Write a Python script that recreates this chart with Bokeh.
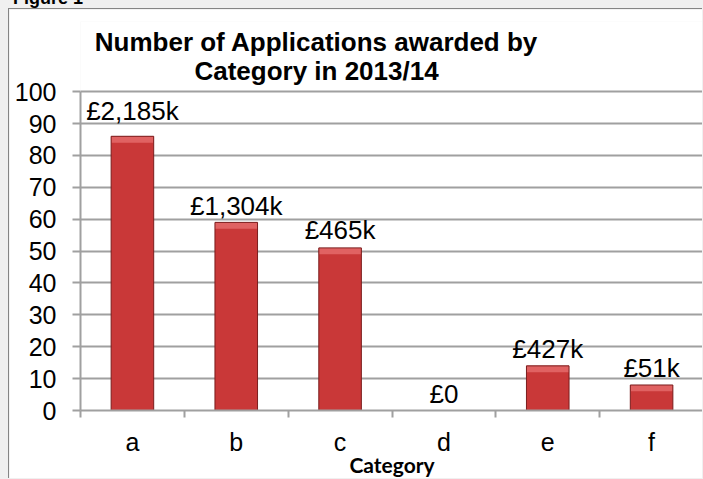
from bokeh.plotting import figure
from bokeh.models import Range1d, FixedTicker, Label, Div, ColumnDataSource
from bokeh.layouts import column
from bokeh.core.properties import value
from bokeh.embed import file_html
from bokeh.resources import INLINE

# ---- data ----
categories = ["a", "b", "c", "d", "e", "f"]
applications = [86, 59, 51, 0, 14, 8]
amount_labels = ["£2,185k", "£1,304k", "£465k", "£0", "£427k", "£51k"]
label_pos = [94.0, 64.0, 56.7, 5.3, 19.4, 13.2]
y_ticks = [0, 10, 20, 30, 40, 50, 60, 70, 80, 90, 100]
title_lines = ["Number of Applications awarded by", "Category in 2013/14"]

n = len(categories)
centers = [i + 0.5 for i in range(n)]
bounds = list(range(n + 1))

src = ColumnDataSource(dict(x=centers, top=applications,
                            lab=amount_labels, ly=label_pos))
# light bevel cap on top of each non-empty bar
cap_x = [c for c, v in zip(centers, applications) if v > 0]
cap_top = [v for v in applications if v > 0]
cap_bottom = [max(v - 2.0, 0) for v in cap_top]

GRID = "#a0a0a0"
FONT = "Liberation Sans"

p = figure(width=694, height=470,
           min_border_left=71, min_border_right=0, min_border_top=12,
           min_border_bottom=69,
           x_range=Range1d(0, n), y_range=Range1d(0, 122),
           output_backend="svg", toolbar_location=None,
           background_fill_color="white", border_fill_color="white")
p.outline_line_color = None
p.margin = (0, 0, 0, 8)
p.styles = {"border-left": "1px solid #858585", "border-top": "1px solid #858585"}

# bars (face, bevel cap, outline)
p.vbar(x="x", top="top", bottom=0, width=0.41, source=src,
       fill_color="#c93838", line_color=None)
p.vbar(x=cap_x, top=cap_top, bottom=cap_bottom, width=0.41,
       fill_color="#e06262", line_color=None)
p.vbar(x="x", top="top", bottom=0, width=0.41, source=src,
       fill_color=None, line_color="#7a1d1d", line_width=1)

# value labels
p.text(x="x", y="ly", text="lab", source=src, text_align="center",
       text_baseline="alphabetic", text_font=value(FONT),
       text_font_size="26px", text_color="black")

# grid
p.xgrid.visible = False
p.ygrid.ticker = FixedTicker(ticks=y_ticks)
p.ygrid.grid_line_color = GRID
p.ygrid.grid_line_width = 2

# y axis
p.yaxis.ticker = FixedTicker(ticks=y_ticks)
p.yaxis.bounds = (0, 100)
p.yaxis.axis_line_color = GRID
p.yaxis.axis_line_width = 2
p.yaxis.major_tick_line_color = GRID
p.yaxis.major_tick_line_width = 2
p.yaxis.major_tick_out = 8
p.yaxis.major_tick_in = 0
p.yaxis.minor_tick_line_color = None
p.yaxis.major_label_text_font = FONT
p.yaxis.major_label_text_font_size = "25px"
p.yaxis.major_label_text_color = "black"
p.yaxis.major_label_standoff = 16

# x axis: labels at centres, ticks at category boundaries
p.xaxis.ticker = FixedTicker(ticks=centers, minor_ticks=bounds)
p.xaxis.major_label_overrides = {c: cat for c, cat in zip(centers, categories)}
p.xaxis.axis_line_color = GRID
p.xaxis.axis_line_width = 2
p.xaxis.major_tick_line_color = None
p.xaxis.major_tick_out = 0
p.xaxis.major_tick_in = 0
p.xaxis.minor_tick_line_color = GRID
p.xaxis.minor_tick_line_width = 2
p.xaxis.minor_tick_out = 7
p.xaxis.minor_tick_in = 0
p.xaxis.major_label_text_font = FONT
p.xaxis.major_label_text_font_size = "25px"
p.xaxis.major_label_text_color = "black"
p.xaxis.major_label_standoff = 10
p.xaxis.axis_label = "Category"
p.xaxis.axis_label_text_font = "Lato"
p.xaxis.axis_label_text_font_style = "bold"
p.xaxis.axis_label_text_font_size = "21px"
p.xaxis.axis_label_text_color = "black"
p.xaxis.axis_label_standoff = -7

# title (two lines)
for line, yy in zip(title_lines, [115.7, 106.6]):
    p.add_layout(Label(x=2.273, y=yy, text=line, text_align="center",
                       text_baseline="alphabetic", text_font=FONT,
                       text_font_style="bold", text_font_size="26px",
                       text_color="black"))

fig_caption = Div(text='<div style="position:relative;top:-11px;left:13px;'
                       'font:bold 18px \'Liberation Sans\';line-height:18px;'
                       'white-space:nowrap">Figure 1</div>',
                  width=200, height=8, margin=(0, 0, 0, 0),
                  styles={"overflow": "hidden"})

layout = column(fig_caption, p, spacing=0, width=703, height=479,
                styles={"background-color": "#f0f0f0"})

open("out.html", "w").write(file_html(layout, INLINE))
